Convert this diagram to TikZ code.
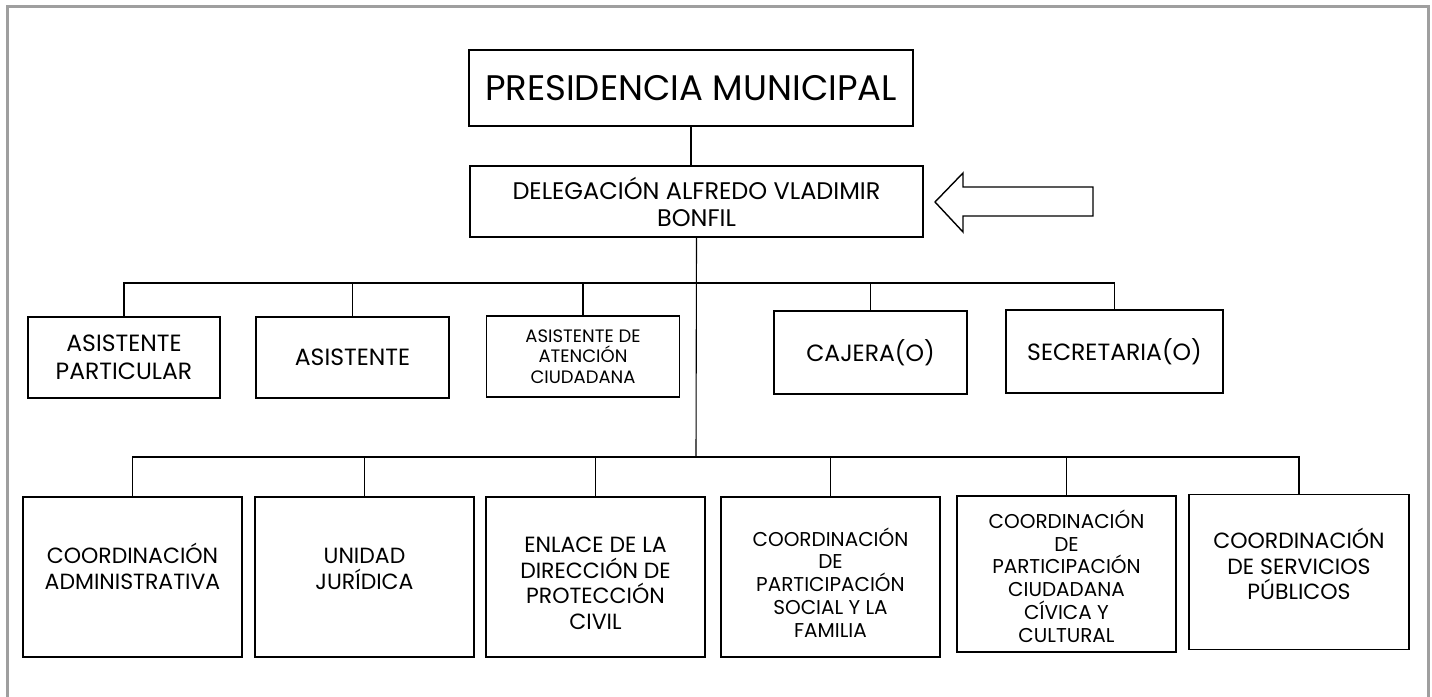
\documentclass[tikz,border=0pt]{standalone}
\usepackage{fontspec}
\setmainfont{Poppins}
\usepackage{tikz}

\begin{document}
\begin{tikzpicture}[x=1pt,y=1pt,yscale=-1,xscale=1,
  box/.style={draw,line width=1.6pt,inner sep=0pt,align=center},
  post/.style={box,minimum width=193,minimum height=81,font=\fontsize{23.5}{27.7}\selectfont},
  area/.style={box,minimum width=219,minimum height=160},
  unit/.style={align=center,inner sep=0pt,font=\fontsize{22}{25.5}\selectfont},
  unitsmall/.style={unit,font=\fontsize{20}{22.8}\selectfont},
  link/.style={line width=1.1pt}]
\useasboundingbox (0,0) rectangle (1432,696);

%Frame
\draw[gray!75,line width=3pt] (7,700) -- (7,6.5) -- (1428,6.5) -- (1428,700);

%Shape: top boxes
\node[box,minimum width=444,minimum height=76,font=\fontsize{35.5}{40}\selectfont] (pres) at (691,88) {PRESIDENCIA MUNICIPAL};
\node[box,minimum width=453,minimum height=71,font=\fontsize{24}{27}\selectfont] (deleg) at (696.5,201.5) {DELEGACIÓN ALFREDO VLADIMIR\\BONFIL};

%Shape: pointer
\draw[line width=1.4pt,line join=miter] (935,202) -- (963,173) -- (963,187) -- (1093,187) -- (1093,216) -- (963,216) -- (963,232) -- cycle;

%Shape: first row
\node[post,minimum width=192] (ap) at (124,357.5) {ASISTENTE\\PARTICULAR};
\node[post] (as) at (352.5,357.5) {ASISTENTE};
\node[post,font=\fontsize{18}{20.5}\selectfont] (at) at (583,356.5) {ASISTENTE DE\\ATENCIÓN\\CIUDADANA};
\node[post,minimum height=83] (caj) at (870.5,352.5) {CAJERA(O)};
\node[post,minimum width=217,minimum height=83] (sec) at (1114.5,351.5) {SECRETARIA(O)};

%Shape: second row
\node[area] (ca) at (132.5,577) {};
\node[area] (uj) at (364.5,577) {};
\node[area] (ep) at (595.5,577) {};
\node[area] (cps) at (830.5,577) {};
\node[area,minimum height=156] (cpc) at (1066.5,574) {};
\node[area,minimum width=220,minimum height=155] (csp) at (1299,572) {};

% Text Node
\node[unit] (caT) at (132.5,566.5) {COORDINACIÓN\\ADMINISTRATIVA};
\node[unit] (ujT) at (364.5,569) {UNIDAD\\JURÍDICA};
\node[unit] (epT) at (595.5,583.5) {ENLACE DE LA\\DIRECCIÓN DE\\PROTECCIÓN\\CIVIL};
\node[unitsmall] (cpsT) at (830.5,582.5) {COORDINACIÓN\\DE\\PARTICIPACIÓN\\SOCIAL Y LA\\FAMILIA};
\node[unitsmall] (cpcT) at (1066.5,576) {COORDINACIÓN\\DE\\PARTICIPACIÓN\\CIUDADANA\\CÍVICA Y\\CULTURAL};
\node[unit] (cspT) at (1299,564) {COORDINACIÓN\\DE SERVICIOS\\PÚBLICOS};

%Straight Lines
\coordinate (busA) at (696,283);
\coordinate (busB) at (696,457);
\draw[link] (pres.south) -- (pres.south |- deleg.north);
\draw[link] (deleg.south) -- (busB);
\draw[link] (ap.north) |- (busA) -| (sec.north);
\foreach \n in {as,at,caj}
  \draw[link] (\n.north) -- (\n.north |- busA);
\draw[link] (ca.north) |- (busB) -| (csp.north);
\foreach \n in {uj,ep,cps,cpc}
  \draw[link] (\n.north) -- (\n.north |- busB);

\end{tikzpicture}
\end{document}
